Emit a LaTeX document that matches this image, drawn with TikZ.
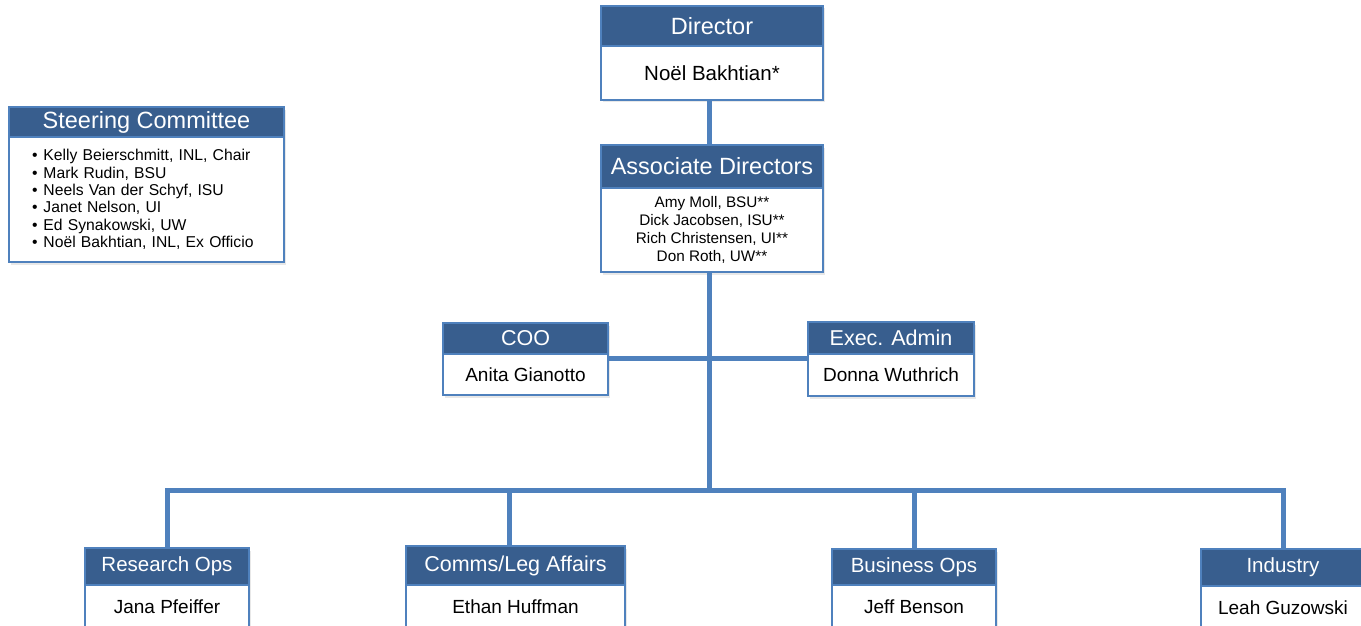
\documentclass[tikz,border=0pt]{standalone}
\usepackage{fontspec}
\setmainfont{Liberation Sans}
\usetikzlibrary{positioning,shadows}
\definecolor{kopf}{RGB}{56,94,142}
\definecolor{rand}{RGB}{79,129,189}

\begin{document}
\begin{tikzpicture}[x=1pt, y=-1pt,
        box/.style={draw=rand, line width=1.4pt, outer sep=0pt, inner sep=2pt, align=center,
            drop shadow={opacity=.18, shadow xshift=2pt, shadow yshift=-2.5pt}},
        kopfbox/.style={box, fill=kopf, text=white, font=\fontsize{21.5}{24}\selectfont},
        rumpf/.style={box, fill=white, text=black, font=\fontsize{19}{22}\selectfont},
        linie/.style={draw=rand, line width=5pt},
        ]
    \useasboundingbox (0,0) rectangle (1361,626);

    % Leitung
    \node[kopfbox, minimum width=222pt, minimum height=40pt, font=\fontsize{23.5}{25}\selectfont]
        (dirH) at (712,26) {Director};
    \node[rumpf, minimum width=222pt, minimum height=54pt, below=0pt of dirH,
        font=\fontsize{20.5}{22}\selectfont] (dir) {Noël Bakhtian*};

    \node[kopfbox, minimum width=222pt, minimum height=43pt, font=\fontsize{23.5}{25}\selectfont]
        (assocH) at (712,166.5) {Associate Directors};
    \node[rumpf, minimum width=222pt, minimum height=84pt, below=0pt of assocH,
        font=\fontsize{15.3}{17.9}\selectfont] (assoc)
        {Amy Moll, BSU**\\ Dick Jacobsen, ISU**\\ Rich Christensen, UI**\\ Don Roth, UW**};

    % Steuerungsgremium
    \node[kopfbox, minimum width=275pt, minimum height=30pt, font=\fontsize{23.5}{25}\selectfont]
        (steerH) at (146.5,122) {Steering Committee};
    \node[rumpf, text width=229pt, inner xsep=23pt, minimum height=125pt, align=left,
        below=0pt of steerH, font=\fontsize{15.7}{17.4}\selectfont] (steer)
        {\textbullet\hspace{6pt}Kelly Beierschmitt, INL, Chair\\
         \textbullet\hspace{6pt}Mark Rudin, BSU\\
         \textbullet\hspace{6pt}Neels Van der Schyf, ISU\\
         \textbullet\hspace{6pt}Janet Nelson, UI\\
         \textbullet\hspace{6pt}Ed Synakowski, UW\\
         \textbullet\hspace{6pt}Noël Bakhtian, INL, Ex Officio};

    % Stab
    \node[kopfbox, minimum width=165pt, minimum height=31pt] (cooH) at (525.5,338.5) {COO};
    \node[rumpf, minimum width=165pt, minimum height=41pt, below=0pt of cooH] (coo) {Anita Gianotto};

    \node[kopfbox, minimum width=166pt, minimum height=32pt] (execH) at (891,338) {Exec. Admin};
    \node[rumpf, minimum width=166pt, minimum height=42pt, below=0pt of execH] (exec) {Donna Wuthrich};

    % Bereiche
    \node[kopfbox, minimum width=164pt, minimum height=37pt, font=\fontsize{20.5}{23}\selectfont]
        (resH) at (167,566.5) {Research Ops};
    \node[rumpf, minimum width=164pt, minimum height=44pt, below=0pt of resH] (res) {Jana Pfeiffer};

    \node[kopfbox, minimum width=219pt, minimum height=39pt] (commsH) at (515.5,565.5) {Comms/Leg Affairs};
    \node[rumpf, minimum width=219pt, minimum height=44pt, below=0pt of commsH] (comms) {Ethan Huffman};

    \node[kopfbox, minimum width=164pt, minimum height=36pt, font=\fontsize{20.5}{23}\selectfont]
        (busH) at (914,567) {Business Ops};
    \node[rumpf, minimum width=164pt, minimum height=44pt, below=0pt of busH] (bus) {Jeff Benson};

    \node[kopfbox, minimum width=164pt, minimum height=37pt, font=\fontsize{20.5}{23}\selectfont]
        (indH) at (1283,567.5) {Industry};
    \node[rumpf, minimum width=164pt, minimum height=44pt, below=0pt of indH] (ind) {Leah Guzowski};

    % Verbindungen
    \coordinate (schiene) at (709,490);
    \draw[linie] (dir.south -| 709,0) -- (assocH.north -| 709,0);
    \draw[linie] (assoc.south -| schiene) -- (schiene);
    \draw[linie] (resH.north) |- (schiene) -| (indH.north);
    \draw[linie] ([xshift=-6pt]commsH.north) -- ([xshift=-6pt]commsH.north |- schiene);
    \draw[linie] (busH.north) -- (busH.north |- schiene);
    \draw[linie] ([yshift=-4pt]cooH.south east) -- ([yshift=-4pt]execH.south west);

\end{tikzpicture}
\end{document}
